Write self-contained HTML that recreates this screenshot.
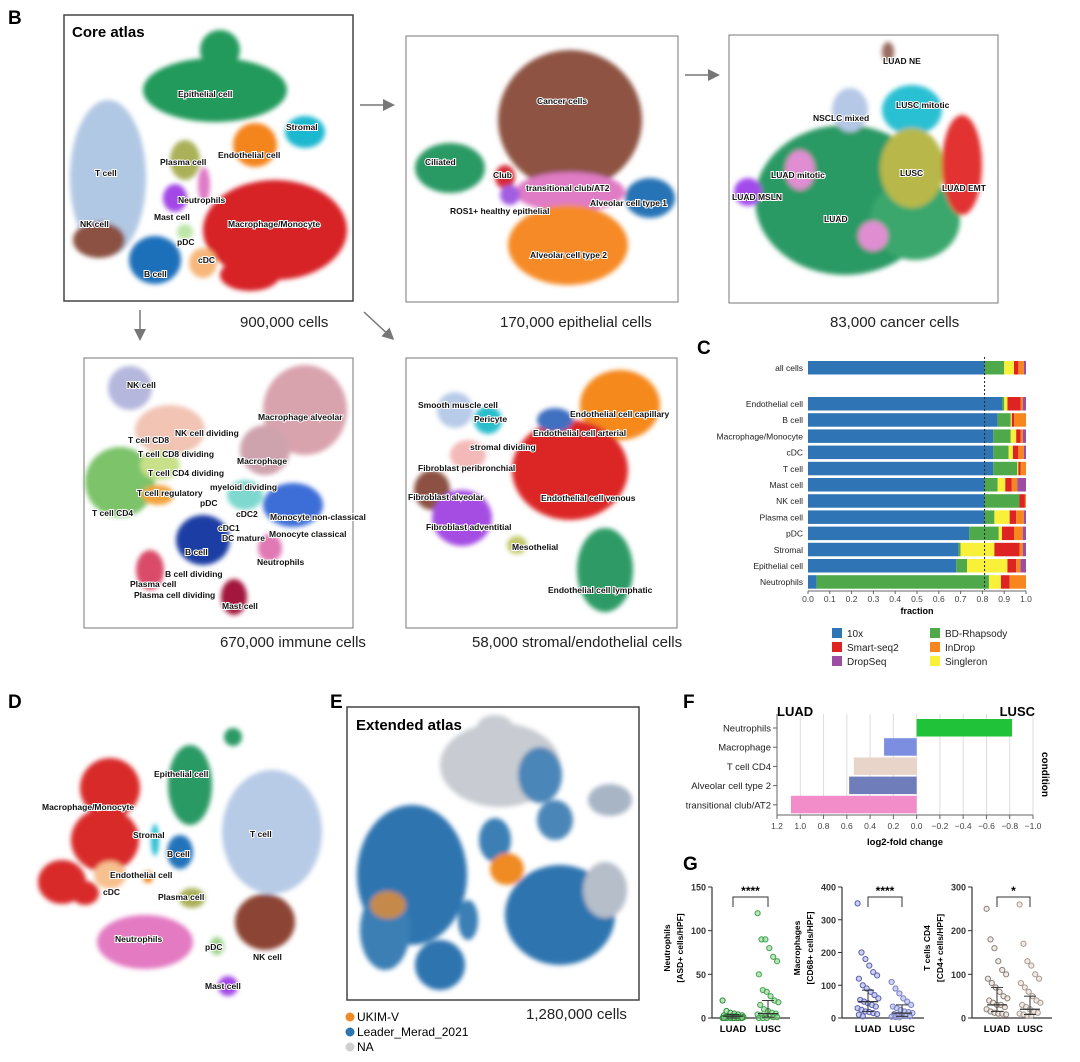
<!DOCTYPE html>
<html><head><meta charset="utf-8">
<style>
html,body{margin:0;padding:0;background:#fff;}
svg{display:block;font-family:"Liberation Sans",sans-serif;}
.pl{font-weight:bold;font-size:19px;fill:#000;}
.cl{font-weight:bold;font-size:8.5px;fill:#111;stroke:#fff;stroke-width:2px;paint-order:stroke;}
.cap{font-size:15px;fill:#222;}
.tk{font-size:8.5px;fill:#444;}
</style></head>
<body>
<svg id="fig" width="1080" height="1062" viewBox="0 0 1080 1062">
<defs>
<filter id="bl" x="-30%" y="-30%" width="160%" height="160%"><feGaussianBlur stdDeviation="2.5"/></filter>
<marker id="ah" markerWidth="8" markerHeight="8" refX="6" refY="4" orient="auto"><path d="M0,0 L8,4 L0,8 z" fill="#777"/></marker>
</defs>

<!-- ===== Panel B ===== -->
<text class="pl" x="8" y="24">B</text>
<g>
<rect x="64" y="15" width="289" height="286" fill="#fff" stroke="#444" stroke-width="1.5"/>
<text x="72" y="37" font-size="15" font-weight="bold">Core atlas</text>
<g filter="url(#bl)">
<ellipse cx="215" cy="90" rx="72" ry="32" fill="#239a5c"/>
<ellipse cx="220" cy="50" rx="20" ry="20" fill="#239a5c"/>
<ellipse cx="305" cy="132" rx="20" ry="16" fill="#1bb8cf"/>
<ellipse cx="255" cy="145" rx="22" ry="22" fill="#f4841b"/>
<ellipse cx="185" cy="160" rx="15" ry="20" fill="#aab158"/>
<ellipse cx="108" cy="178" rx="38" ry="78" fill="#b1c8e4"/>
<ellipse cx="99" cy="240" rx="26" ry="18" fill="#8c5142"/>
<ellipse cx="175" cy="198" rx="12" ry="14" fill="#a347e6"/>
<ellipse cx="204" cy="185" rx="6" ry="18" fill="#e07ac6"/>
<ellipse cx="275" cy="230" rx="72" ry="50" fill="#d72128"/>
<ellipse cx="250" cy="275" rx="30" ry="16" fill="#d72128"/>
<ellipse cx="185" cy="232" rx="8" ry="8" fill="#bde6a8"/>
<ellipse cx="203" cy="263" rx="14" ry="15" fill="#f8b77a"/>
<ellipse cx="155" cy="260" rx="26" ry="24" fill="#1f6fba"/>
</g>
<text class="cl" x="178" y="97">Epithelial cell</text>
<text class="cl" x="286" y="130">Stromal</text>
<text class="cl" x="218" y="158">Endothelial cell</text>
<text class="cl" x="160" y="165">Plasma cell</text>
<text class="cl" x="95" y="176">T cell</text>
<text class="cl" x="80" y="227">NK cell</text>
<text class="cl" x="178" y="203">Neutrophils</text>
<text class="cl" x="154" y="220">Mast cell</text>
<text class="cl" x="228" y="227">Macrophage/Monocyte</text>
<text class="cl" x="177" y="245">pDC</text>
<text class="cl" x="198" y="263">cDC</text>
<text class="cl" x="144" y="277">B cell</text>
</g>
<text class="cap" x="240" y="327">900,000 cells</text>

<line x1="360" y1="105" x2="392" y2="105" stroke="#777" stroke-width="1.5" marker-end="url(#ah)"/>
<line x1="685" y1="75" x2="717" y2="75" stroke="#777" stroke-width="1.5" marker-end="url(#ah)"/>
<line x1="140" y1="310" x2="140" y2="338" stroke="#777" stroke-width="1.5" marker-end="url(#ah)"/>
<line x1="364" y1="312" x2="392" y2="338" stroke="#777" stroke-width="1.5" marker-end="url(#ah)"/>

<g>
<rect x="406" y="36" width="272" height="266" fill="#fff" stroke="#777" stroke-width="1"/>
<g filter="url(#bl)">
<ellipse cx="570" cy="120" rx="72" ry="70" fill="#8e5243"/>
<ellipse cx="450" cy="168" rx="35" ry="25" fill="#2a9a65"/>
<ellipse cx="505" cy="177" rx="10" ry="12" fill="#d62a35"/>
<ellipse cx="570" cy="192" rx="55" ry="20" fill="#df7bc5"/>
<ellipse cx="510" cy="195" rx="10" ry="10" fill="#a35de0"/>
<ellipse cx="650" cy="198" rx="25" ry="20" fill="#2673b5"/>
<ellipse cx="568" cy="245" rx="60" ry="40" fill="#f68a25"/>
</g>
<text class="cl" x="537" y="104">Cancer cells</text>
<text class="cl" x="425" y="165">Ciliated</text>
<text class="cl" x="493" y="178">Club</text>
<text class="cl" x="526" y="191">transitional club/AT2</text>
<text class="cl" x="590" y="206">Alveolar cell type 1</text>
<text class="cl" x="450" y="214">ROS1+ healthy epithelial</text>
<text class="cl" x="530" y="258">Alveolar cell type 2</text>
</g>
<text class="cap" x="500" y="327">170,000 epithelial cells</text>

<g>
<rect x="729" y="35" width="269" height="268" fill="#fff" stroke="#777" stroke-width="1"/>
<g filter="url(#bl)">
<ellipse cx="845" cy="200" rx="90" ry="75" fill="#2a9a65"/>
<ellipse cx="915" cy="220" rx="45" ry="40" fill="#3aa76d"/>
<ellipse cx="912" cy="110" rx="30" ry="25" fill="#2bc0d3"/>
<ellipse cx="850" cy="110" rx="18" ry="22" fill="#b5c8e6"/>
<ellipse cx="912" cy="168" rx="32" ry="40" fill="#b7b849"/>
<ellipse cx="962" cy="165" rx="20" ry="50" fill="#e23333"/>
<ellipse cx="800" cy="170" rx="15" ry="20" fill="#e08ed1"/>
<ellipse cx="873" cy="236" rx="15" ry="15" fill="#e08ed1"/>
<ellipse cx="748" cy="192" rx="14" ry="14" fill="#a24bea"/>
<ellipse cx="888" cy="52" rx="6" ry="10" fill="#9a6a60"/>
</g>
<text class="cl" x="883" y="64">LUAD NE</text>
<text class="cl" x="896" y="108">LUSC mitotic</text>
<text class="cl" x="813" y="121">NSCLC mixed</text>
<text class="cl" x="771" y="178">LUAD mitotic</text>
<text class="cl" x="732" y="200">LUAD MSLN</text>
<text class="cl" x="900" y="176">LUSC</text>
<text class="cl" x="942" y="191">LUAD EMT</text>
<text class="cl" x="824" y="222">LUAD</text>
</g>
<text class="cap" x="830" y="327">83,000 cancer cells</text>

<g>
<rect x="84" y="358" width="269" height="270" fill="#fff" stroke="#777" stroke-width="1"/>
<g filter="url(#bl)">
<ellipse cx="130" cy="388" rx="22" ry="22" fill="#b5b7dd"/>
<ellipse cx="170" cy="430" rx="35" ry="25" fill="#f1c4b4"/>
<ellipse cx="120" cy="482" rx="35" ry="35" fill="#7cc36a"/>
<ellipse cx="160" cy="465" rx="20" ry="15" fill="#c8e089"/>
<ellipse cx="158" cy="495" rx="16" ry="10" fill="#f2a33a"/>
<ellipse cx="305" cy="410" rx="42" ry="45" fill="#d9a3ae"/>
<ellipse cx="265" cy="450" rx="25" ry="25" fill="#cfa3ad"/>
<ellipse cx="245" cy="495" rx="18" ry="15" fill="#7fd8cf"/>
<ellipse cx="293" cy="505" rx="30" ry="22" fill="#3c6ed8"/>
<ellipse cx="203" cy="540" rx="27" ry="25" fill="#1a3ca3"/>
<ellipse cx="270" cy="548" rx="12" ry="14" fill="#e079b4"/>
<ellipse cx="150" cy="570" rx="14" ry="20" fill="#d94b69"/>
<ellipse cx="234" cy="597" rx="13" ry="18" fill="#a3143d"/>
</g>
<text class="cl" x="127" y="388">NK cell</text>
<text class="cl" x="175" y="436">NK cell dividing</text>
<text class="cl" x="258" y="420">Macrophage alveolar</text>
<text class="cl" x="128" y="443">T cell CD8</text>
<text class="cl" x="138" y="457">T cell CD8 dividing</text>
<text class="cl" x="148" y="476">T cell CD4 dividing</text>
<text class="cl" x="237" y="464">Macrophage</text>
<text class="cl" x="137" y="496">T cell regulatory</text>
<text class="cl" x="210" y="490">myeloid dividing</text>
<text class="cl" x="200" y="506">pDC</text>
<text class="cl" x="236" y="517">cDC2</text>
<text class="cl" x="92" y="516">T cell CD4</text>
<text class="cl" x="270" y="520">Monocyte non-classical</text>
<text class="cl" x="218" y="531">cDC1</text>
<text class="cl" x="222" y="541">DC mature</text>
<text class="cl" x="269" y="537">Monocyte classical</text>
<text class="cl" x="185" y="555">B cell</text>
<text class="cl" x="257" y="565">Neutrophils</text>
<text class="cl" x="165" y="577">B cell dividing</text>
<text class="cl" x="130" y="587">Plasma cell</text>
<text class="cl" x="134" y="598">Plasma cell dividing</text>
<text class="cl" x="222" y="609">Mast cell</text>
</g>
<text class="cap" x="220" y="647">670,000 immune cells</text>

<g>
<rect x="406" y="358" width="271" height="270" fill="#fff" stroke="#777" stroke-width="1"/>
<g filter="url(#bl)">
<ellipse cx="620" cy="405" rx="40" ry="35" fill="#f5891f"/>
<ellipse cx="570" cy="470" rx="58" ry="50" fill="#dc2626"/>
<ellipse cx="555" cy="420" rx="18" ry="12" fill="#3f6fc0"/>
<ellipse cx="605" cy="570" rx="28" ry="42" fill="#2e9b66"/>
<ellipse cx="455" cy="410" rx="18" ry="18" fill="#b8cbe8"/>
<ellipse cx="488" cy="420" rx="14" ry="14" fill="#2bbecd"/>
<ellipse cx="468" cy="455" rx="18" ry="15" fill="#f3b9b8"/>
<ellipse cx="432" cy="490" rx="18" ry="20" fill="#8c5142"/>
<ellipse cx="462" cy="518" rx="30" ry="28" fill="#a54de3"/>
<ellipse cx="517" cy="545" rx="10" ry="9" fill="#c3c96b"/>
</g>
<text class="cl" x="418" y="408">Smooth muscle cell</text>
<text class="cl" x="474" y="422">Pericyte</text>
<text class="cl" x="570" y="417">Endothelial cell capillary</text>
<text class="cl" x="533" y="436">Endothelial cell arterial</text>
<text class="cl" x="470" y="450">stromal dividing</text>
<text class="cl" x="418" y="471">Fibroblast peribronchial</text>
<text class="cl" x="408" y="500">Fibroblast alveolar</text>
<text class="cl" x="541" y="501">Endothelial cell venous</text>
<text class="cl" x="426" y="530">Fibroblast adventitial</text>
<text class="cl" x="512" y="550">Mesothelial</text>
<text class="cl" x="548" y="593">Endothelial cell lymphatic</text>
</g>
<text class="cap" x="472" y="647">58,000 stromal/endothelial cells</text>

<!-- ===== Panel C ===== -->
<text class="pl" x="697" y="354">C</text>
<g id="chartC"></g>

<!-- ===== Panel D ===== -->
<text class="pl" x="8" y="708">D</text>
<g>
<g filter="url(#bl)">
<ellipse cx="110" cy="788" rx="30" ry="30" fill="#d92a2a"/>
<ellipse cx="105" cy="840" rx="34" ry="32" fill="#d92a2a"/>
<ellipse cx="62" cy="882" rx="24" ry="22" fill="#d92a2a"/>
<ellipse cx="85" cy="893" rx="14" ry="12" fill="#d92a2a"/>
<ellipse cx="110" cy="875" rx="16" ry="14" fill="#f7c08f"/>
<ellipse cx="190" cy="785" rx="22" ry="40" fill="#2a9a65"/>
<ellipse cx="233" cy="737" rx="9" ry="9" fill="#2a9a65"/>
<ellipse cx="155" cy="840" rx="4" ry="16" fill="#2bc0d3"/>
<ellipse cx="272" cy="832" rx="50" ry="62" fill="#b7cbe7"/>
<ellipse cx="265" cy="922" rx="30" ry="28" fill="#8c4535"/>
<ellipse cx="180" cy="852" rx="13" ry="17" fill="#2173ba"/>
<ellipse cx="148" cy="877" rx="5" ry="6" fill="#f4841b"/>
<ellipse cx="192" cy="898" rx="13" ry="10" fill="#aab158"/>
<ellipse cx="145" cy="942" rx="48" ry="27" fill="#e37ac2"/>
<ellipse cx="217" cy="946" rx="7" ry="9" fill="#9ad48a"/>
<ellipse cx="228" cy="986" rx="10" ry="10" fill="#a347e6"/>
</g>
<text class="cl" x="154" y="777">Epithelial cell</text>
<text class="cl" x="42" y="810">Macrophage/Monocyte</text>
<text class="cl" x="133" y="838">Stromal</text>
<text class="cl" x="250" y="837">T cell</text>
<text class="cl" x="167" y="857">B cell</text>
<text class="cl" x="110" y="878">Endothelial cell</text>
<text class="cl" x="103" y="895">cDC</text>
<text class="cl" x="158" y="900">Plasma cell</text>
<text class="cl" x="115" y="942">Neutrophils</text>
<text class="cl" x="205" y="950">pDC</text>
<text class="cl" x="253" y="960">NK cell</text>
<text class="cl" x="205" y="989">Mast cell</text>
</g>

<!-- ===== Panel E ===== -->
<text class="pl" x="330" y="708">E</text>
<g>
<rect x="347" y="707" width="292" height="293" fill="#fff" stroke="#444" stroke-width="1.5"/>
<g filter="url(#bl)">
<ellipse cx="500" cy="765" rx="60" ry="42" fill="#c8ccd2"/>
<ellipse cx="495" cy="727" rx="18" ry="12" fill="#c8ccd2"/>
<ellipse cx="540" cy="775" rx="22" ry="28" fill="#4b86b8"/>
<ellipse cx="412" cy="875" rx="55" ry="70" fill="#2d75b0"/>
<ellipse cx="385" cy="930" rx="25" ry="40" fill="#3b7fb5"/>
<ellipse cx="388" cy="905" rx="18" ry="14" fill="#c58a4a"/>
<ellipse cx="495" cy="840" rx="16" ry="22" fill="#3b7fb5"/>
<ellipse cx="507" cy="869" rx="17" ry="16" fill="#f08a24"/>
<ellipse cx="555" cy="820" rx="18" ry="20" fill="#4b86b8"/>
<ellipse cx="610" cy="800" rx="22" ry="16" fill="#a8b5c5"/>
<ellipse cx="560" cy="915" rx="55" ry="50" fill="#2d75b0"/>
<ellipse cx="605" cy="890" rx="22" ry="28" fill="#b5bec9"/>
<ellipse cx="440" cy="965" rx="25" ry="25" fill="#2d75b0"/>
<ellipse cx="468" cy="920" rx="10" ry="20" fill="#3b7fb5"/>
</g>
<text x="356" y="730" font-size="15" font-weight="bold">Extended atlas</text>
</g>
<g>
<circle cx="350" cy="1017" r="4.5" fill="#f08a24"/><text x="357" y="1021" font-size="12">UKIM-V</text>
<circle cx="350" cy="1032" r="4.5" fill="#2d75b0"/><text x="357" y="1036" font-size="12">Leader_Merad_2021</text>
<circle cx="350" cy="1047" r="4.5" fill="#cfcfcf"/><text x="357" y="1051" font-size="12">NA</text>
</g>
<text class="cap" x="526" y="1019">1,280,000 cells</text>

<!-- ===== Panel F ===== -->
<text class="pl" x="683" y="708">F</text>
<g id="chartF"></g>

<!-- ===== Panel G ===== -->
<text class="pl" x="683" y="870">G</text>
<g id="chartG"></g>
</svg>

<script>
// ---------- Panel C data ----------
const cCategories = ["all cells","Endothelial cell","B cell","Macrophage/Monocyte","cDC","T cell","Mast cell","NK cell","Plasma cell","pDC","Stromal","Epithelial cell","Neutrophils"];
const cPlatforms = ["10x","BD-Rhapsody","Singleron","Smart-seq2","InDrop","DropSeq"];
const c10x =       [0.81,0.89,0.87,0.85,0.85,0.85,0.81,0.81,0.81,0.74,0.69,0.68,0.04];
const cBD =        [0.09,0.01,0.06,0.08,0.07,0.11,0.06,0.16,0.045,0.135,0.01,0.05,0.79];
const cSingleron = [0.045,0.015,0.005,0.025,0.02,0.005,0.035,0,0.07,0.015,0.155,0.185,0.055];
const cSmart =     [0.02,0.06,0.01,0.02,0.025,0.01,0.03,0.025,0.03,0.055,0.115,0.04,0.04];
const cInDrop =    [0.025,0.01,0.055,0.01,0.025,0.025,0.025,0.005,0.035,0.04,0.015,0.02,0.075];
const cDropSeq =   [0.01,0.015,0,0.015,0.01,0,0.04,0,0.01,0.015,0.015,0.025,0];
const cTicks = [0,0.1,0.2,0.3,0.4,0.5,0.6,0.7,0.8,0.9,1.0];
const cRef = 0.81;

// ---------- Panel F data ----------
const fCategories = ["Neutrophils","Macrophage","T cell CD4","Alveolar cell type 2","transitional club/AT2"];
const fValues = [-0.82,0.28,0.54,0.58,1.08];
const fTicks = [1.2,1.0,0.8,0.6,0.4,0.2,0.0,-0.2,-0.4,-0.6,-0.8,-1.0];

// ---------- Panel G data ----------
const gPanels = ["Neutrophils","Macrophages","T cells CD4"];
const gMax = [150,400,300];
const gTicks = [[0,50,100,150],[0,100,200,300,400],[0,100,200,300]];
const gStars = ["****","****","*"];
const gLUAD1 = [20,8,6,5,4,3,3,2,2,2,1,1,1,1,0,0,0,0,0,0,0,0,0,0];
const gLUSC1 = [120,90,90,80,70,65,50,32,30,25,20,18,15,10,8,6,5,4,3,2,2,1,1,0,0,0];
const gLUAD2 = [350,200,180,160,140,130,120,100,90,80,70,60,55,50,45,40,35,30,25,20,18,15,12,10,5];
const gLUSC2 = [110,90,75,60,50,40,35,30,25,20,18,15,12,10,8,6,5,4,3,2];
const gLUAD3 = [250,180,160,130,110,100,90,80,70,60,50,45,40,35,30,30,25,20,15,12,10,10,8];
const gLUSC3 = [260,170,130,120,100,90,80,70,60,50,40,35,30,25,20,15,12,10,8,5,5];
const gMed = [[2,5],[50,15],[30,20]];
const gIqr = [[[0,4],[1,20]],[[20,85],[5,40]],[[15,70],[8,50]]];

const NS = "http://www.w3.org/2000/svg";
function mk(parent, tag, attrs){ const e=document.createElementNS(NS,tag); for(const k in attrs) e.setAttribute(k,attrs[k]); parent.appendChild(e); return e; }
function txt(parent, x, y, s, attrs){ const e=mk(parent,"text",Object.assign({x:x,y:y},attrs||{})); e.textContent=s; return e; }

// ---------- draw C ----------
(function(){
  const g=document.getElementById("chartC");
  const x0=808, x1=1026;
  const xs=v=>x0+(x1-x0)*v;
  const rowY=i=> i===0 ? 361 : 397+(i-1)*16.2;
  const colors=["#2f74b5","#4fa84a","#f9f03a","#dd2423","#f7861e","#9d4ea3"];
  const series=[c10x,cBD,cSingleron,cSmart,cInDrop,cDropSeq];
  cCategories.forEach((cat,i)=>{
    let acc=0; const y=rowY(i);
    series.forEach((s,k)=>{
      const r=mk(g,"rect",{x:xs(acc),y:y,width:Math.max(0,xs(acc+s[i])-xs(acc)),height:13.5,fill:colors[k]});
      
      
      acc+=s[i];
    });
    const t=txt(g,x0-5,y+10,cat,{"text-anchor":"end","font-size":"8.5","fill":"#222"});
    
    
  });
  const rl=mk(g,"line",{x1:xs(cRef),x2:xs(cRef),y1:357,y2:590,stroke:"#222","stroke-dasharray":"2,2","stroke-width":"1"});
  
  
  mk(g,"line",{x1:x0,x2:x1,y1:591,y2:591,stroke:"#666"});
  cTicks.forEach(v=>{
    mk(g,"line",{x1:xs(v),x2:xs(v),y1:591,y2:594,stroke:"#666"});
    const t=txt(g,xs(v),602,v.toFixed(1),{"text-anchor":"middle","class":"tk"});
    
    
  });
  const xt=txt(g,(x0+x1)/2,614,"fraction",{"text-anchor":"middle","font-size":"9","font-weight":"bold"});
  
  
  const legOrder=[[0,832,633],[1,930,633],[3,832,647],[4,930,647],[5,832,661],[2,930,661]];
  const legNames=["10x","BD-Rhapsody","Singleron","Smart-seq2","InDrop","DropSeq"];
  legOrder.forEach(([k,x,y])=>{
    mk(g,"rect",{x:x,y:y-5,width:10,height:10,fill:colors[k]});
    const t=txt(g,x+15,y+4,legNames[k],{"font-size":"10","fill":"#222"});
    
    
  });
})();

// ---------- draw F ----------
(function(){
  const g=document.getElementById("chartF");
  const xL=777, xR=1033, top=714, bot=815;
  const xs=v=>xL+(xR-xL)*(1.2-v)/2.2;
  fTicks.forEach(v=>{
    mk(g,"line",{x1:xs(v),x2:xs(v),y1:top,y2:bot,stroke:"#ddd"});
    mk(g,"line",{x1:xs(v),x2:xs(v),y1:bot,y2:bot+4,stroke:"#666"});
    const t=txt(g,xs(v),829,(v===0?"0.0":(v<0?"\u2212"+Math.abs(v).toFixed(1):v.toFixed(1))),{"text-anchor":"middle","class":"tk"});
    
    
  });
  mk(g,"line",{x1:xL,x2:xR,y1:bot,y2:bot,stroke:"#666"});
  mk(g,"line",{x1:xL,x2:xL,y1:top,y2:bot,stroke:"#666"});
  const colors=["#20c23a","#7b8ee0","#e9d4c9","#6f7dbb","#f28dca"];
  fCategories.forEach((c,i)=>{
    const yc=728+i*19.2;
    const v=fValues[i];
    const r=mk(g,"rect",{x:Math.min(xs(v),xs(0)),y:yc-9,width:Math.abs(xs(v)-xs(0)),height:17.5,fill:colors[i]});
    
    
    mk(g,"line",{x1:xL-4,x2:xL,y1:yc,y2:yc,stroke:"#666"});
    const t=txt(g,xL-6,yc+3.5,c,{"text-anchor":"end","font-size":"9.5","fill":"#222"});
    
    
  });
  const a=txt(g,777,716,"LUAD",{"font-size":"13","font-weight":"bold"});  
  const b=txt(g,1035,716,"LUSC",{"font-size":"13","font-weight":"bold","text-anchor":"end"});  
  const xt=txt(g,905,845,"log2-fold change",{"text-anchor":"middle","font-size":"9.5","font-weight":"bold"});  
  const ct=txt(g,1042,752,"condition",{"font-size":"10","font-weight":"bold",transform:"rotate(90 1042 752)"});  
})();

// ---------- draw G ----------
(function(){
  const g=document.getElementById("chartG");
  const axX=[712,842,972], y0=1018, yT=887;
  const xL=[733,868,997], xR=[768,902,1030];
  const colors=[["#2e8b3a","#3fa34d"],["#5a5fae","#7b80c6"],["#8a7f78","#a89a90"]];
  const fills=[["#8fd28f","#8fd28f"],["#aab0e6","#aab0e6"],["#e6dcd4","#e6dcd4"]];
  const ylabels=[["Neutrophils","[ASD+ cells/HPF]"],["Macrophages","[CD68+ cells/HPF]"],["T cells CD4","[CD4+ cells/HPF]"]];
  const labX=[[670,683],[800,813],[930,943]];
  const data=[[gLUAD1,gLUSC1],[gLUAD2,gLUSC2],[gLUAD3,gLUSC3]];
  for(let p=0;p<3;p++){
    const ys=v=>y0-(y0-yT)*v/gMax[p];
    mk(g,"line",{x1:axX[p],x2:axX[p],y1:yT,y2:y0,stroke:"#333","stroke-width":"1.2"});
    mk(g,"line",{x1:axX[p],x2:xR[p]+22,y1:y0,y2:y0,stroke:"#333","stroke-width":"1.2"});
    gTicks[p].forEach(v=>{
      mk(g,"line",{x1:axX[p]-4,x2:axX[p],y1:ys(v),y2:ys(v),stroke:"#333"});
      const t=txt(g,axX[p]-6,ys(v)+3.5,String(v),{"text-anchor":"end","font-size":"9","font-weight":"bold","fill":"#333"});
      
      
    });
    const yl1=txt(g,labX[p][0],948,ylabels[p][0],{"text-anchor":"middle","font-size":"8.5","font-weight":"bold",transform:`rotate(-90 ${labX[p][0]} 948)`});
    
    
    const yl2=txt(g,labX[p][1],948,ylabels[p][1],{"text-anchor":"middle","font-size":"8.5","font-weight":"bold",transform:`rotate(-90 ${labX[p][1]} 948)`});
    
    
    [xL[p],xR[p]].forEach((cx,s)=>{
      const arr=data[p][s];
      arr.forEach((v,i)=>{
        const jit=((i*37)%17-8)*1.3;
        const c=mk(g,"circle",{cx:cx+jit,cy:ys(v),r:2.6,fill:fills[p][s],"fill-opacity":"0.6",stroke:colors[p][s],"stroke-width":"1"});
        
        
      });
      mk(g,"line",{x1:cx-10,x2:cx+10,y1:ys(gMed[p][s]),y2:ys(gMed[p][s]),stroke:"#333","stroke-width":"1.3"});
      mk(g,"line",{x1:cx,x2:cx,y1:ys(gIqr[p][s][0]),y2:ys(gIqr[p][s][1]),stroke:"#333","stroke-width":"1"});
      mk(g,"line",{x1:cx-6,x2:cx+6,y1:ys(gIqr[p][s][1]),y2:ys(gIqr[p][s][1]),stroke:"#333"});
      mk(g,"line",{x1:cx-6,x2:cx+6,y1:ys(gIqr[p][s][0]),y2:ys(gIqr[p][s][0]),stroke:"#333"});
      const t=txt(g,cx,1032,s?"LUSC":"LUAD",{"text-anchor":"middle","font-size":"9.5","font-weight":"bold"});
      
      
    });
    const by=897;
    mk(g,"path",{d:`M${xL[p]} ${by+10} V${by} H${xR[p]} V${by+10}`,fill:"none",stroke:"#333"});
    const st=txt(g,(xL[p]+xR[p])/2,by-2,gStars[p],{"text-anchor":"middle","font-size":"12","font-weight":"bold"});
    
    
  }
})();
</script>
</body></html>
